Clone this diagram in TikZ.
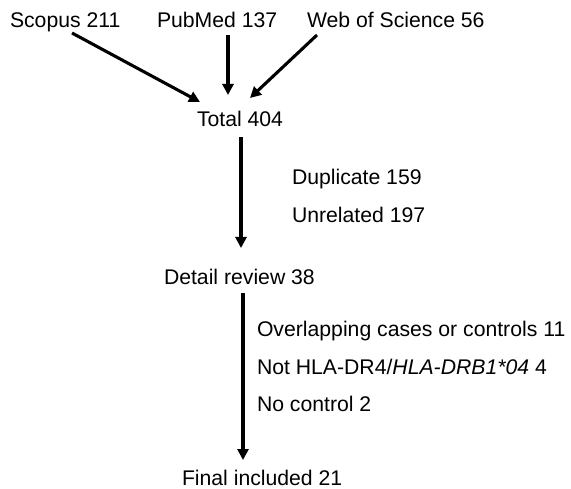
\documentclass[tikz,border=0pt]{standalone}
\usepackage{fontspec}
\setmainfont{Liberation Sans}
\usetikzlibrary{arrows.meta,calc}
\begin{document}
\begin{tikzpicture}[x=1pt,y=-1pt,
  lbl/.style={inner sep=0pt,outer sep=0pt,anchor=base west,font=\fontsize{21.2pt}{25pt}\selectfont},
  flow/.style={line width=3.1pt,-{Triangle[length=11pt,width=11pt]}}]
\useasboundingbox (0,0) rectangle (571,489);
\node[lbl] (scopus) at (10,28) {Scopus 211};
\node[lbl] (pubmed) at (157,28) {PubMed 137};
\node[lbl] (wos) at (307,28) {Web of Science 56};
\node[lbl] (total) at (197,127) {Total 404};
\node[lbl] (dup) at (292,185) {Duplicate 159};
\node[lbl] (unrel) at (292,223) {Unrelated 197};
\node[lbl] (detail) at (164,285) {Detail review 38};
\node[lbl] (over) at (257,337) {Overlapping cases or controls 11};
\node[lbl] (nothla) at (257,375) {Not HLA-DR4/\textit{HLA-DRB1*04} 4};
\node[lbl] (noctrl) at (257,412) {No control 2};
\node[lbl] (final) at (182,485) {Final included 21};
\draw[flow] ($(scopus.base west)+(62,5)$) -- ($(total.base west)+(3,-25)$);
\draw[flow] ($(pubmed.base west)+(71,7)$) -- ($(total.base west)+(31,-32)$);
\draw[flow] ($(wos.base west)+(10,7)$) -- ($(total.base west)+(53,-29)$);
\draw[flow] ($(total.base west)+(44,10)$) -- ($(detail.base west)+(77,-37)$);
\draw[flow] ($(detail.base west)+(79,8)$) -- ($(final.base west)+(61,-25)$);
\end{tikzpicture}
\end{document}
